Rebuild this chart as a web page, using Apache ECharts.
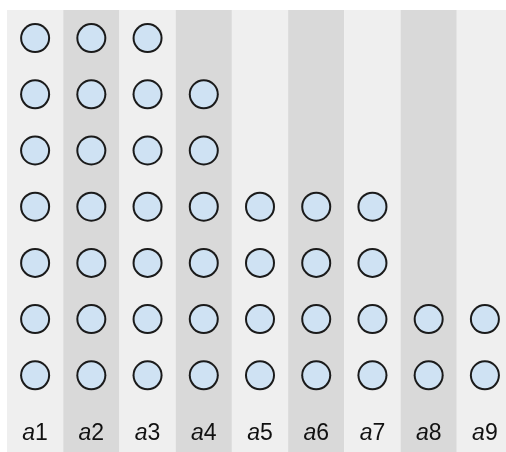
<!DOCTYPE html>
<html>
<head>
<meta charset="utf-8">
<script src="https://cdn.jsdelivr.net/npm/echarts@6/dist/echarts.min.js"></script>
<style>
html,body{margin:0;padding:0;background:#fff;overflow:hidden;}
#chart{width:513px;height:452px;}
</style>
</head>
<body>
<div id="chart"></div>
<script>
var categories = ['a1', 'a2', 'a3', 'a4', 'a5', 'a6', 'a7', 'a8', 'a9'];
var counts = [7, 7, 7, 6, 4, 4, 4, 2, 2];

var chart = echarts.init(document.getElementById('chart'), null, {renderer: 'canvas'});
chart.setOption({
  animation: false,
  backgroundColor: '#ffffff',
  grid: {left: 7, top: 10, right: 0, bottom: 0},
  xAxis: {
    type: 'category',
    data: categories,
    axisLine: {show: false},
    axisTick: {show: false},
    splitLine: {show: false},
    splitArea: {show: true, interval: 0, areaStyle: {color: ['#efefef', '#d9d9d9']}},
    axisLabel: {
      inside: true,
      interval: 0,
      margin: 7,
      formatter: function (v) {
        return '{a|' + v.charAt(0) + '}{n|' + v.slice(1) + '}';
      },
      rich: {
        a: {fontStyle: 'italic', fontSize: 23, color: '#111', fontFamily: 'Arial, "Liberation Sans", sans-serif'},
        n: {fontSize: 23, color: '#111', fontFamily: 'Arial, "Liberation Sans", sans-serif'}
      }
    }
  },
  yAxis: {
    type: 'value',
    min: -0.865,
    max: 7,
    show: false,
    splitLine: {show: false}
  },
  series: [{
    type: 'pictorialBar',
    data: counts,
    symbol: 'circle',
    symbolSize: 30,
    symbolRepeat: true,
    symbolMargin: '14!',
    itemStyle: {color: '#1a1a1a'},
    z: 2
  }, {
    type: 'pictorialBar',
    data: counts,
    symbol: 'circle',
    symbolSize: 26,
    symbolRepeat: true,
    symbolMargin: '16!',
    barGap: '-100%',
    itemStyle: {color: '#cfe2f3'},
    z: 3
  }]
});
</script>
</body>
</html>
